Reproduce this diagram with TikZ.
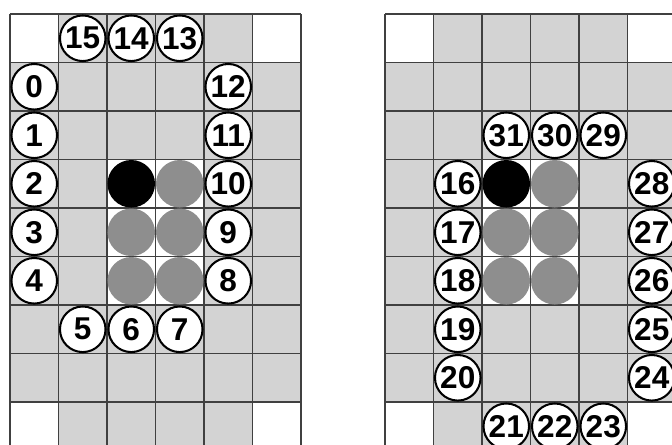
\documentclass[tikz,border=0pt]{standalone}
\usepackage{fontspec}
\setsansfont{Liberation Sans}
\definecolor{boardgrey}{HTML}{D3D3D3}
\definecolor{stonegrey}{HTML}{8E8E8E}
\definecolor{gridline}{HTML}{404040}

\begin{document}
\begin{tikzpicture}[
  lib/.style={circle,draw=black,line width=1.2pt,fill=white,minimum size=9.4mm,inner sep=0pt,
    font=\sffamily\bfseries\fontsize{18.5}{20}\selectfont},
  stone/.style={circle,minimum size=9.8mm,inner sep=0pt},
  board/.style={gridline,line width=0.9pt}]
  \useasboundingbox (-0.206,0.289) rectangle (13.649,-8.866);
  \clip (-0.206,0.289) rectangle (13.649,-8.866);
  % left board
  \fill[boardgrey] (0,0) rectangle (6,-9);
  \foreach \c/\r in {0/0,5/0,0/8,5/8,2/3,3/3,2/4,3/4,2/5,3/5}
    \fill[white] (\c,-\r) rectangle ++(1,-1);
  \draw[board] (0,-9) grid (6,0);
  \node[stone,fill=black] (lblack) at (2.5,-3.5) {};
  \node[stone,fill=stonegrey] (lgrey1) at (3.5,-3.5) {};
  \node[stone,fill=stonegrey] (lgrey2) at (2.5,-4.5) {};
  \node[stone,fill=stonegrey] (lgrey3) at (3.5,-4.5) {};
  \node[stone,fill=stonegrey] (lgrey4) at (2.5,-5.5) {};
  \node[stone,fill=stonegrey] (lgrey5) at (3.5,-5.5) {};
  \foreach \n/\c/\r in {0/0/1,1/0/2,2/0/3,3/0/4,4/0/5,5/1/6,6/2/6,7/3/6,
      8/4/5,9/4/4,10/4/3,11/4/2,12/4/1,13/3/0,14/2/0,15/1/0}
    \node[lib] (l\n) at ({\c+0.5},{-\r-0.5}) {\n};
  % right board
  \begin{scope}[xshift=7.732cm]
    \fill[boardgrey] (0,0) rectangle (6,-9);
    \foreach \c/\r in {0/0,5/0,0/8,5/8,2/3,3/3,2/4,3/4,2/5,3/5}
      \fill[white] (\c,-\r) rectangle ++(1,-1);
    \draw[board] (0,-9) grid (6,0);
    \node[stone,fill=black] (rblack) at (2.5,-3.5) {};
    \node[stone,fill=stonegrey] (rgrey1) at (3.5,-3.5) {};
    \node[stone,fill=stonegrey] (rgrey2) at (2.5,-4.5) {};
    \node[stone,fill=stonegrey] (rgrey3) at (3.5,-4.5) {};
    \node[stone,fill=stonegrey] (rgrey4) at (2.5,-5.5) {};
    \node[stone,fill=stonegrey] (rgrey5) at (3.5,-5.5) {};
    \foreach \n/\c/\r in {16/1/3,17/1/4,18/1/5,19/1/6,20/1/7,21/2/8,22/3/8,23/4/8,
        24/5/7,25/5/6,26/5/5,27/5/4,28/5/3,29/4/2,30/3/2,31/2/2}
      \node[lib] (r\n) at ({\c+0.5},{-\r-0.5}) {\n};
  \end{scope}
\end{tikzpicture}
\end{document}
